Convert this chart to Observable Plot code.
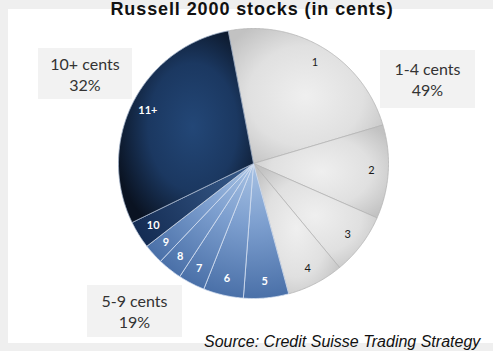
<!DOCTYPE html>
<html><head><meta charset="utf-8">
<script src="https://cdn.jsdelivr.net/npm/d3@7"></script>
<script src="https://cdn.jsdelivr.net/npm/@observablehq/plot@0.6"></script>
<style>
html,body{margin:0;padding:0}
body{width:493px;height:351px;background:#efefef;position:relative;overflow:hidden;font-family:"Liberation Sans",Arial,sans-serif}
#panel{position:absolute;left:8px;top:9px;width:485px;height:334px;background:#fff}
#chart{position:absolute;left:0;top:0}
#title{position:absolute;left:0;width:504px;top:0px;text-align:center;font-weight:bold;font-size:18px;line-height:18px;letter-spacing:0.9px;color:#111;white-space:nowrap}
.box{position:absolute;background:#f2f2f2;display:flex;flex-direction:column;justify-content:center;align-items:center;font-family:Lato,"Open Sans",sans-serif;font-size:16px;line-height:21px;color:#333}
#source{position:absolute;left:204px;top:333px;font-style:italic;font-size:16px;line-height:18px;color:#111;white-space:nowrap}
</style>
</head><body>
<div id="panel"></div>
<div id="chart"></div>
<div id="title"></div>
<div id="source"></div>
<script>
// ---- data ----
const categories = ["1","2","3","4","5","6","7","8","9","10","11+"];
const shares     = [23.4, 11.2, 7.4, 6.8, 5.4, 4.8, 3.2, 2.9, 2.4, 3.3, 29.2];
const groups     = ["1-4","1-4","1-4","1-4","5-9","5-9","5-9","5-9","5-9","10","11+"];
const groupLabels   = ["10+ cents","1-4 cents","5-9 cents"];
const groupPercents = ["32%","49%","19%"];
const titleText  = "Russell 2000 stocks (in cents)";
const sourceText = "Source: Credit Suisse Trading Strategy";
const startAngleDeg = -10.8;

// ---- layout ----
const W = 493, H = 351, cx = 253, cy = 163, R = 135;
const fills   = {"1-4":"url(#gGray)","5-9":"url(#gBlue)","10":"url(#g10)","11+":"url(#gNavy)"};
const strokes = {"1-4":"#b5b5b5","5-9":"#d3def0","10":"#c9d3e2","11+":"#9fb0c8"};

const table = categories.map((c,i)=>({cat:c, share:shares[i], group:groups[i]}));
const a0 = startAngleDeg*Math.PI/180;
const arcs = d3.pie().sort(null).value(d=>d.share).startAngle(a0).endAngle(a0+2*Math.PI)(table);

const pts = [];
for (const a of arcs) {
  const g = a.data.group;
  pts.push({cat:a.data.cat, group:g, x:0, y:0});
  const n = Math.max(4, Math.ceil((a.endAngle-a.startAngle)/0.01));
  for (let k=0;k<=n;k++){
    const t = a.startAngle + (a.endAngle-a.startAngle)*k/n;
    pts.push({cat:a.data.cat, group:g, x:Math.sin(t), y:Math.cos(t)});
  }
  pts.push({cat:a.data.cat, group:g, x:0, y:0});
}
const labels = arcs.map(a=>{
  const m = (a.startAngle+a.endAngle)/2;
  return {cat:a.data.cat, group:a.data.group, x:0.875*Math.sin(m), y:0.875*Math.cos(m)};
});
const darkLabels = labels.filter(d=>d.group==="1-4");
const lightLabels = labels.filter(d=>d.group!=="1-4");

const plot = Plot.plot({
  width: W, height: H,
  marginTop:0, marginRight:0, marginBottom:0, marginLeft:0,
  x: {domain:[-1,1], range:[cx-R, cx+R], axis:null},
  y: {domain:[-1,1], range:[cy+R, cy-R], axis:null},
  color: {type:"identity"},
  style: {background:"transparent", overflow:"visible"},
  marks: [
    Plot.line(pts, {x:"x", y:"y", z:"cat", fill:d=>fills[d.group], stroke:d=>strokes[d.group], strokeWidth:0.8, curve:"linear"}),
    Plot.text(darkLabels, {x:"x", y:"y", text:"cat", fill:"#1a1a1a", fontSize:11, fontFamily:"Lato, sans-serif"}),
    Plot.text(lightLabels, {x:"x", y:"y", text:"cat", fill:"#ffffff", fontSize:11, fontWeight:"bold", fontFamily:"Lato, sans-serif"})
  ]
});

// gradients
const px = plot.scale("x").apply(0), py = plot.scale("y").apply(0);
const ns = "http://www.w3.org/2000/svg";
const defs = document.createElementNS(ns,"defs");
function grad(id, attrs, stops){
  const g = document.createElementNS(ns,"radialGradient");
  g.setAttribute("id", id);
  for (const k in attrs) g.setAttribute(k, attrs[k]);
  for (const [o,c] of stops){
    const s = document.createElementNS(ns,"stop");
    s.setAttribute("offset", o); s.setAttribute("stop-color", c);
    g.appendChild(s);
  }
  defs.appendChild(g);
}
grad("gGray", {cx:"50%", cy:"50%", r:"62%"}, [[0,"#efefef"],[0.6,"#e0e0e0"],[1,"#c2c2c2"]]);
grad("gNavy", {cx:"55%", cy:"50%", r:"60%"}, [[0,"#234777"],[0.55,"#1b3861"],[1,"#0a1322"]]);
grad("gBlue", {gradientUnits:"userSpaceOnUse", cx:px, cy:py, r:R}, [[0,"#a9c3e4"],[0.45,"#7d9fcf"],[1,"#4a70a8"]]);
grad("g10", {gradientUnits:"userSpaceOnUse", cx:px, cy:py, r:R}, [[0,"#3a5e8e"],[1,"#142c53"]]);
plot.insertBefore(defs, plot.firstChild);
document.getElementById("chart").appendChild(plot);

// texts
document.getElementById("title").textContent = titleText;
document.getElementById("source").textContent = sourceText;
const boxPos = [
  {left:38, top:48, width:94, height:51},
  {left:380, top:50, width:95, height:58},
  {left:87, top:285, width:95, height:52}
];
groupLabels.forEach((lab,i)=>{
  const b = document.createElement("div");
  b.className = "box";
  Object.assign(b.style, {left:boxPos[i].left+"px", top:boxPos[i].top+"px", width:boxPos[i].width+"px", height:boxPos[i].height+"px"});
  const l1 = document.createElement("div"); l1.textContent = lab;
  const l2 = document.createElement("div"); l2.textContent = groupPercents[i];
  b.appendChild(l1); b.appendChild(l2);
  document.body.appendChild(b);
});
</script>
</body></html>
